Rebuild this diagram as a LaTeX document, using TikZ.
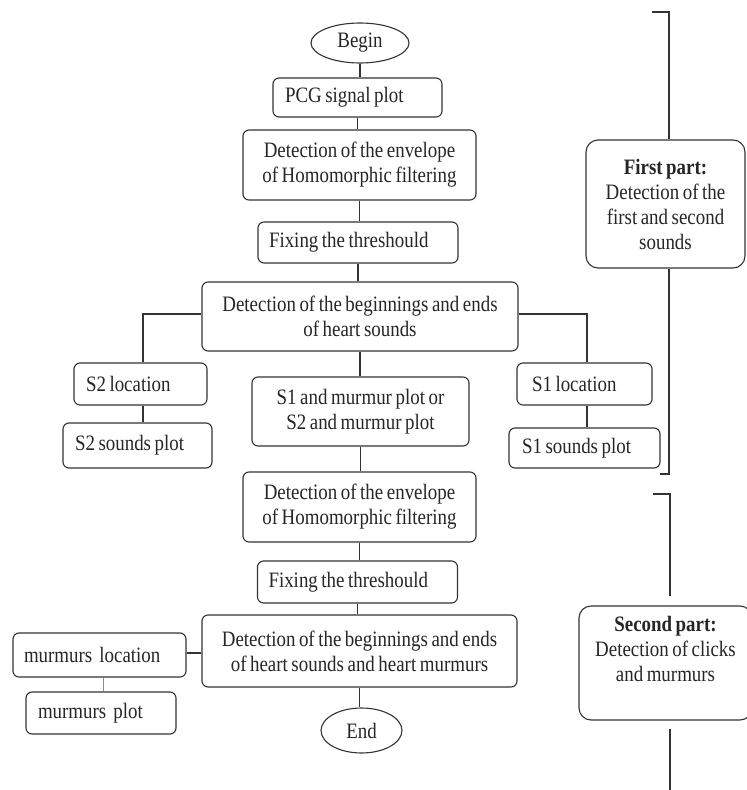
\documentclass[tikz,border=0pt]{standalone}
\usepackage{fontspec}
\setmainfont{Liberation Serif}[FakeStretch=0.86, WordSpace=0.75]
\usetikzlibrary{shapes.geometric}
\begin{document}
\begin{tikzpicture}[x=1pt,y=-1pt,
  every node/.style={font=\fontsize{22}{25}\selectfont, text=black!85},
  conn/.style={draw=black!80, line width=1.1pt},
  pbox/.style={draw=black!80, line width=1.1pt, rounded corners=6pt, inner sep=0pt, align=center},
  lbox/.style={draw=black!80, line width=1.1pt, rounded corners=6pt, inner ysep=0pt, align=left,
               execute at begin node={\spaceskip=0pt\xspaceskip=0pt\relax}},
  oval/.style={draw=black!80, line width=1.1pt, ellipse, inner sep=0pt},
  partbox/.style={draw=black!80, line width=1.1pt, rounded corners=12pt, inner sep=0pt, align=center}]
\useasboundingbox (0,0) rectangle (747,790);
\fill[white] (0,0) rectangle (747,790);

\node[oval, minimum width=98pt, minimum height=40pt] (begin) at (360,43) {Begin};
\node[lbox, inner xsep=12pt, text width=145pt, minimum height=39pt] (pcg) at (357.5,97.5) {PCG signal plot};
\node[pbox, minimum width=233pt, minimum height=70pt] (env1) at (359.5,165) {Detection of the envelope\\of Homomorphic filtering};
\node[lbox, inner xsep=11pt, text width=178pt, minimum height=41pt] (fix1) at (358,242.5) {Fixing the threshould};
\node[pbox, minimum width=316pt, minimum height=69pt] (det1) at (360,316.5) {Detection of the beginnings and ends\\of heart sounds};
\node[lbox, inner xsep=12pt, text width=109pt, minimum height=42pt] (s2loc) at (140.5,384) {S2 location};
\node[lbox, inner xsep=12pt, text width=125pt, minimum height=45pt] (s2plot) at (137.5,445.5) {S2 sounds plot};
\node[pbox, minimum width=217pt, minimum height=69pt] (mid) at (360.5,411.5) {S1 and murmur plot or\\S2 and murmur plot};
\node[lbox, inner xsep=15pt, text width=105pt, minimum height=42pt] (s1loc) at (584.5,384) {S1 location};
\node[lbox, inner xsep=13pt, text width=125pt, minimum height=40pt] (s1plot) at (584.5,448) {S1 sounds plot};
\node[pbox, minimum width=233pt, minimum height=70pt] (env2) at (359.5,507) {Detection of the envelope\\of Homomorphic filtering};
\node[lbox, inner xsep=11pt, text width=178pt, minimum height=42pt] (fix2) at (357.5,582) {Fixing the threshould};
\node[pbox, minimum width=315pt, minimum height=72pt] (det2) at (359.5,651) {Detection of the beginnings and ends\\of heart sounds and heart murmurs};
\node[lbox, inner xsep=11pt, text width=151pt, minimum height=44pt] (mloc) at (99.5,655) {murmurs\ \ location};
\node[lbox, inner xsep=12pt, text width=126pt, minimum height=42pt] (mplot) at (101,713) {murmurs\ \ plot};
\node[oval, minimum width=81pt, minimum height=45pt] (end) at (361.5,730.5) {End};
\node[partbox, minimum width=159pt, minimum height=128pt] (part1) at (665.5,204) {\textbf{First part:}\\Detection of the\\first and second\\sounds};
\node[partbox, minimum width=173pt, minimum height=114pt] (part2) at (665.5,663) {\textbf{Second part:}\\Detection of clicks\\and murmurs\\[4pt]};

% main chain
\draw[conn] (begin.south) -- (begin.south |- pcg.north);
\draw[conn] (pcg.south) -- (pcg.south |- env1.north);
\draw[conn] (env1.south) -- (env1.south |- fix1.north);
\draw[conn] (fix1.south) -- (fix1.south |- det1.north);
\draw[conn] (det1.south) -- (det1.south |- mid.north);
\draw[conn] (mid.south) -- (mid.south |- env2.north);
\draw[conn] (env2.south) -- (env2.south |- fix2.north);
\draw[conn] (fix2.south) -- (fix2.south |- det2.north);
\draw[conn] (det2.south) -- (det2.south |- end.north);
% branches
\coordinate (b2) at (143,314);
\coordinate (b1) at (587,314);
\draw[conn] (det1.west |- b2) -| (b2 |- s2loc.north);
\draw[conn] (b2 |- s2loc.south) -- (b2 |- s2plot.north);
\draw[conn] (det1.east |- b1) -| (b1 |- s1loc.north);
\draw[conn] (b1 |- s1loc.south) -- (b1 |- s1plot.north);
\draw[conn] (det2.west |- 0,653) -- (mloc.east |- 0,653);
\draw[draw=black!45, line width=0.8pt] (103,0 |- mloc.south) -- (103,0 |- mplot.north);
% brackets
\coordinate (t1a) at (652,12);
\coordinate (t1b) at (669,12);
\coordinate (t1c) at (669,473);
\draw[conn] (t1a) -- (t1b) -- (t1b |- part1.north);
\draw[conn] (t1c |- part1.south) -- (t1c);
\coordinate (t1d) at (660,474);
\coordinate (t1e) at (670,474);
\draw[conn] (t1d) -- (t1e);
\coordinate (t2a) at (653,494);
\coordinate (t2b) at (670,494);
\coordinate (t2c) at (670,596);
\coordinate (t2d) at (670,729);
\coordinate (t2e) at (670,790);
\draw[conn] (t2a) -- (t2b) -- (t2c);
\draw[conn] (t2d) -- (t2e);
\end{tikzpicture}
\end{document}
